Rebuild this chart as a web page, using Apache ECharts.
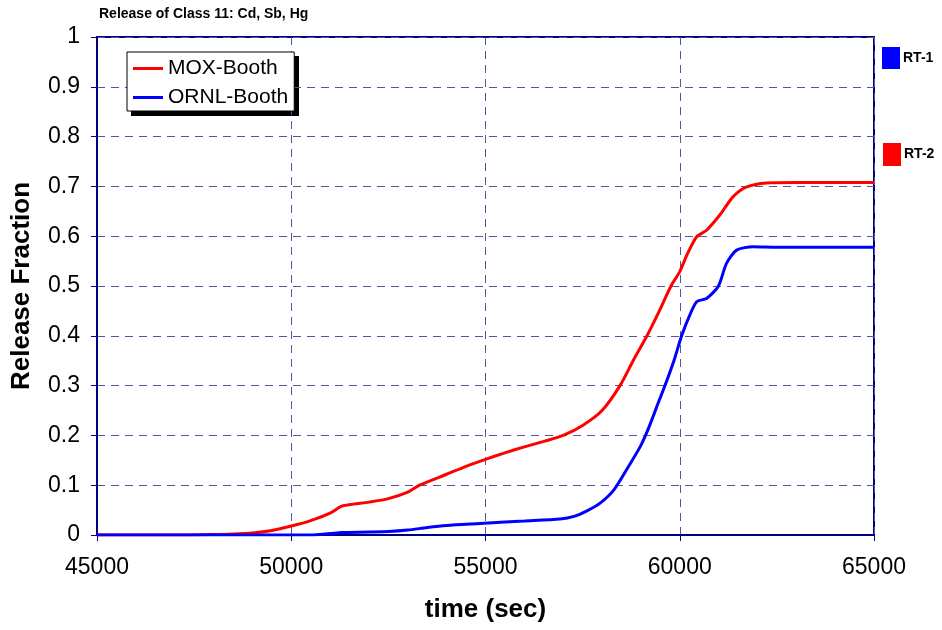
<!DOCTYPE html>
<html><head><meta charset="utf-8">
<script src="https://cdn.jsdelivr.net/npm/echarts@6/dist/echarts.min.js"></script>
<style>html,body{margin:0;padding:0;background:#fff}#c{width:942px;height:630px}</style>
</head><body><div id="c"></div>
<script>
var titleText = 'Release of Class 11: Cd, Sb, Hg';
var seriesNames = ['MOX-Booth', 'ORNL-Booth'];
var moxTime = [45000,47000,48000,48500,49000,49500,50000,50500,51000,51300,51600,52000,52500,53000,53300,54000,54500,55000,55500,56000,56500,57000,57500,58000,58462,58800,59157,59475,59775,60000,60200,60435,60690,61036,61370,61722,62236,63000,65000];
var moxValues = [0,0,0.001,0.002,0.004,0.009,0.018,0.029,0.044,0.058,0.062,0.066,0.073,0.086,0.1,0.122,0.138,0.152,0.165,0.177,0.188,0.2,0.22,0.25,0.3,0.35,0.4,0.45,0.5,0.529,0.565,0.599,0.612,0.643,0.679,0.699,0.707,0.708,0.708];
var ornlTime = [45000,50500,51000,51300,52000,52500,53000,53500,54000,54860,55500,56000,56918,57300,57600,57950,58300,58700,59000,59200,59474,59620,59850,60048,60250,60435,60690,60990,61206,61463,61892,62500,65000];
var ornlValues = [0,0,0.003,0.005,0.006,0.007,0.01,0.015,0.019,0.023,0.026,0.028,0.032,0.038,0.048,0.064,0.09,0.14,0.18,0.215,0.271,0.3,0.35,0.4,0.44,0.4685,0.475,0.499,0.546,0.572,0.579,0.578,0.578];
var markerLabels = ['RT-1', 'RT-2'];
var markerColors = ['#0000ff', '#ff0000'];

function pairs(t, v){ return t.map(function(x,i){ return [x, v[i]]; }); }

var FONT = 'Liberation Sans, Arial, sans-serif';
var chart = echarts.init(document.getElementById('c'), null, {renderer:'canvas'});
var axisCol = '#000080';
var gridCol = '#5555a0';
chart.setOption({
  animation: false,
  backgroundColor: '#fff',
  title: { text: titleText, left: 99, top: 7, padding: 0, textStyle: { fontFamily: FONT, fontSize: 14, fontWeight: 'bold', color: '#000' } },
  grid: { left: 97, right: 68, top: 37, bottom: 95, show: true, borderColor: axisCol, borderWidth: 2 },
  legend: {
    orient: 'vertical', left: 127, top: 52,
    data: seriesNames,
    backgroundColor: '#fff', borderColor: '#000', borderWidth: 1,
    padding: [6, 6, 3, 6], itemGap: 8,
    icon: 'rect', itemWidth: 30, itemHeight: 3,
    textStyle: { fontFamily: FONT, fontSize: 21, color: '#000' }
  },
  xAxis: {
    type: 'value', min: 45000, max: 65000, interval: 5000,
    name: 'time (sec)', nameLocation: 'middle', nameGap: 62,
    nameTextStyle: { fontFamily: FONT, fontSize: 26, fontWeight: 'bold', color: '#000' },
    axisLine: { show: true, lineStyle: { color: axisCol, width: 2 } },
    axisTick: { show: true, inside: false, length: 6, lineStyle: { color: axisCol, width: 1 } },
    axisLabel: { fontFamily: FONT, fontSize: 23, color: '#000', margin: 21, formatter: function(v){ return String(v); } },
    splitLine: { show: true, lineStyle: { color: gridCol, type: [8, 6], width: 1 } }
  },
  yAxis: {
    type: 'value', min: 0, max: 1, interval: 0.1,
    name: 'Release Fraction', nameLocation: 'middle', nameGap: 62, nameRotate: 90,
    nameTextStyle: { fontFamily: FONT, fontSize: 26, fontWeight: 'bold', color: '#000' },
    axisLine: { show: true, lineStyle: { color: axisCol, width: 2 } },
    axisTick: { show: true, inside: false, length: 6, lineStyle: { color: axisCol, width: 1 } },
    axisLabel: { fontFamily: FONT, fontSize: 23, color: '#000', margin: 17, formatter: function(v){ return String(+v.toFixed(1)); } },
    splitLine: { show: true, lineStyle: { color: gridCol, type: [8, 6], width: 1 } }
  },
  series: [
    { name: seriesNames[0], type: 'line', data: pairs(moxTime, moxValues), showSymbol: false, smooth: 0.25, lineStyle: { color: '#ff0000', width: 3 }, itemStyle: { color: '#ff0000' } },
    { name: seriesNames[1], type: 'line', data: pairs(ornlTime, ornlValues), showSymbol: false, smooth: 0.25, lineStyle: { color: '#0000ff', width: 3 }, itemStyle: { color: '#0000ff' } }
  ],
  graphic: [
    { type: 'rect', left: 131, top: 56, z: 0, shape: { width: 168, height: 60 }, style: { fill: '#000' } },
    { type: 'rect', left: 882, top: 47, shape: { width: 18, height: 22 }, style: { fill: markerColors[0] } },
    { type: 'text', left: 903, top: 51, style: { text: markerLabels[0], font: 'bold 14px Liberation Sans, Arial', fill: '#000' } },
    { type: 'rect', left: 883, top: 143, shape: { width: 18, height: 23 }, style: { fill: markerColors[1] } },
    { type: 'text', left: 904, top: 147, style: { text: markerLabels[1], font: 'bold 14px Liberation Sans, Arial', fill: '#000' } }
  ]
});
</script></body></html>
